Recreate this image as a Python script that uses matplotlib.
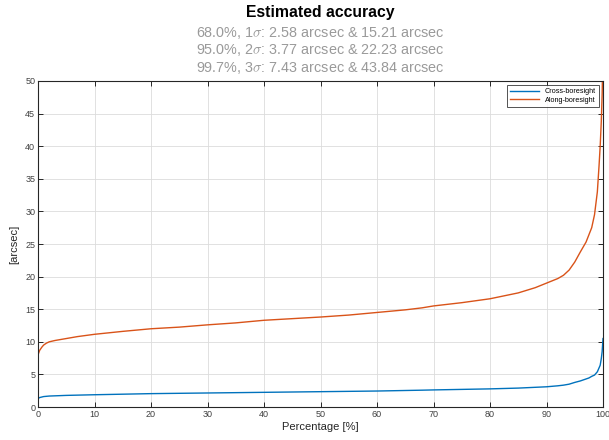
import matplotlib
matplotlib.use("Agg")
import matplotlib.pyplot as plt

plt.rcParams['font.family'] = ['Liberation Sans', 'DejaVu Sans']
plt.rcParams['mathtext.fontset'] = 'cm'

# Data
along_pct = [0, 0.3, 0.7, 1, 1.5, 2, 3, 5, 7, 10, 15, 20, 25, 30, 35, 40, 45, 50, 55,
             60, 65, 68, 70, 75, 80, 85, 88, 90, 92, 93, 94, 95, 96, 97, 98, 98.5,
             99, 99.3, 99.5, 99.7, 99.85, 100]
along_val = [8.0, 8.7, 9.2, 9.5, 9.8, 10.0, 10.2, 10.5, 10.8, 11.15, 11.6, 12.0, 12.25,
             12.6, 12.9, 13.3, 13.55, 13.8, 14.1, 14.5, 14.9, 15.21, 15.5, 16.0, 16.6,
             17.5, 18.3, 19.0, 19.7, 20.2, 21.0, 22.23, 23.8, 25.3, 27.5, 29.5, 33,
             37, 40, 43.84, 48, 55]

cross_pct = [0, 0.3, 1, 2, 5, 10, 20, 30, 40, 50, 60, 68, 70, 80, 85, 90, 92, 93, 94,
             95, 96, 97, 97.5, 98, 98.5, 99, 99.5, 99.7, 99.85, 100]
cross_val = [1.3, 1.45, 1.6, 1.68, 1.78, 1.88, 2.05, 2.15, 2.25, 2.35, 2.45, 2.58, 2.62,
             2.78, 2.9, 3.1, 3.25, 3.35, 3.5, 3.77, 4.0, 4.3, 4.45, 4.7, 4.9, 5.4, 6.4,
             7.43, 8.5, 10.5]

title = "Estimated accuracy"
subtitle_lines = [
    r"68.0%, 1$\sigma$: 2.58 arcsec & 15.21 arcsec",
    r"95.0%, 2$\sigma$: 3.77 arcsec & 22.23 arcsec",
    r"99.7%, 3$\sigma$: 7.43 arcsec & 43.84 arcsec",
]
xticks = list(range(0, 101, 10))
yticks = list(range(0, 51, 5))

fig = plt.figure(figsize=(6.09, 4.4), dpi=100)
ax = fig.add_axes([38/609, 33/440, (603-38)/609, (407-81)/440])

ax.plot(cross_pct, cross_val, color='#0072BD', lw=1.0, label='Cross-boresight')
ax.plot(along_pct, along_val, color='#D95319', lw=1.0, label='Along-boresight')

ax.set_xlim(0, 100)
ax.set_ylim(0, 50)
ax.set_xticks(xticks)
ax.set_yticks(yticks)
ax.grid(True, color='#dcdcdc', lw=0.6)
ax.set_axisbelow(True)
ax.tick_params(direction='in', length=3.8, width=0.7, labelsize=6.5,
               colors='#262626', labelcolor='#404040', top=True, right=True, pad=2)
for s in ax.spines.values():
    s.set_color('#262626')
    s.set_linewidth(0.8)

ax.set_xlabel("Percentage [%]", fontsize=8, color='#262626', labelpad=2)
ax.set_ylabel("[arcsec]", fontsize=8, color='#262626', labelpad=4)

leg = ax.legend(loc='upper right', fontsize=5.2, frameon=True, fancybox=False,
                edgecolor='#262626', handlelength=4, borderpad=0.4,
                labelspacing=0.2, borderaxespad=0.6)
leg.get_frame().set_linewidth(0.7)

cx = (38 + 603) / 2 / 609
fig.text(cx, 1 - 12/440, title, ha='center', va='center', fontsize=11.3,
         fontweight='bold', color='black')
for i, line in enumerate(subtitle_lines):
    fig.text(cx, 1 - (33 + 17.5*i)/440, line, ha='center', va='center',
             fontsize=10.4, color='#9a9a9a')

fig.savefig("out.png", dpi=100)
